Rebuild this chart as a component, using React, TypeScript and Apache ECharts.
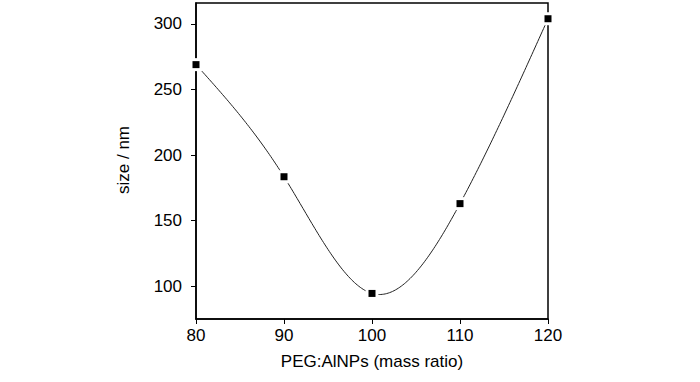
import React, { useEffect, useRef } from "react";
import * as echarts from "echarts";

const ratios = [80, 90, 100, 110, 120];
const sizes = [269, 183.5, 94.5, 163, 304];
const xTicks = [80, 90, 100, 110, 120];
const yTicks = [100, 150, 200, 250, 300];

// natural cubic spline second derivatives
function splineM(xs: number[], ys: number[]): number[] {
  const n = xs.length;
  const a: number[] = new Array(n).fill(0);
  const b: number[] = new Array(n).fill(0);
  const c: number[] = new Array(n).fill(0);
  const d: number[] = new Array(n).fill(0);
  b[0] = 1; b[n - 1] = 1;
  for (let i = 1; i < n - 1; i++) {
    const h0 = xs[i] - xs[i - 1];
    const h1 = xs[i + 1] - xs[i];
    a[i] = h0;
    b[i] = 2 * (h0 + h1);
    c[i] = h1;
    d[i] = 6 * ((ys[i + 1] - ys[i]) / h1 - (ys[i] - ys[i - 1]) / h0);
  }
  for (let i = 1; i < n; i++) {
    const m = a[i] / b[i - 1];
    b[i] -= m * c[i - 1];
    d[i] -= m * d[i - 1];
  }
  const M: number[] = new Array(n).fill(0);
  M[n - 1] = d[n - 1] / b[n - 1];
  for (let i = n - 2; i >= 0; i--) M[i] = (d[i] - c[i] * M[i + 1]) / b[i];
  return M;
}

function splineAt(xs: number[], ys: number[], M: number[], x: number): number {
  let i = 0;
  while (i < xs.length - 2 && x > xs[i + 1]) i++;
  const h = xs[i + 1] - xs[i];
  const A = (xs[i + 1] - x) / h;
  const B = (x - xs[i]) / h;
  return A * ys[i] + B * ys[i + 1] + ((A * A * A - A) * M[i] + (B * B * B - B) * M[i + 1]) * h * h / 6;
}

export default function App() {
  const ref = useRef<HTMLDivElement>(null);
  useEffect(() => {
    if (!ref.current) return;
    const chart = echarts.init(ref.current, null, { renderer: "svg" });
    const pts = ratios.map((r, i) => [r, sizes[i]]);
    const M = splineM(ratios, sizes);
    const font = "Liberation Sans, Arial, sans-serif";
    chart.setOption({
      animation: false,
      backgroundColor: "#fff",
      grid: {
        left: 196,
        top: 3,
        right: 152,
        bottom: 63,
        show: true,
        borderColor: "#000",
        borderWidth: 1.5,
        backgroundColor: "transparent",
      },
      xAxis: {
        type: "value",
        min: 80,
        max: 120,
        interval: 10,
        axisLine: { lineStyle: { color: "#000", width: 1.5 } },
        axisTick: { show: true, length: 5, inside: false, lineStyle: { color: "#000", width: 1 }, customValues: xTicks },
        axisLabel: { color: "#000", fontSize: 17, fontFamily: font, margin: 8, customValues: xTicks },
        splitLine: { show: false },
      },
      yAxis: {
        type: "value",
        min: 75,
        max: 316,
        axisLine: { lineStyle: { color: "#000", width: 1.5 } },
        axisTick: { show: true, length: 5, lineStyle: { color: "#000", width: 1 }, customValues: yTicks },
        axisLabel: { color: "#000", fontSize: 17, fontFamily: font, margin: 14, customValues: yTicks },
        splitLine: { show: false },
      },
      graphic: [
        {
          type: "text",
          x: 372,
          y: 361,
          style: {
            text: "PEG:AlNPs (mass ratio)",
            fill: "#000",
            font: `17px ${font}`,
            textAlign: "center",
            textVerticalAlign: "middle",
          },
        },
        {
          type: "text",
          x: 123,
          y: 160,
          rotation: Math.PI / 2,
          style: {
            text: "size / nm",
            fill: "#000",
            font: `17px ${font}`,
            textAlign: "center",
            textVerticalAlign: "middle",
          },
        },
      ],
      series: [
        {
          type: "custom",
          data: [pts[0]],
          clip: true,
          renderItem: (params: any, api: any) => {
            const x0 = ratios[0];
            const x1 = ratios[ratios.length - 1];
            const steps = 240;
            const points: number[][] = [];
            for (let k = 0; k <= steps; k++) {
              const x = x0 + ((x1 - x0) * k) / steps;
              points.push(api.coord([x, splineAt(ratios, sizes, M, x)]));
            }
            return {
              type: "polyline",
              shape: { points },
              style: { stroke: "#222", fill: null, lineWidth: 1 },
            };
          },
          z: 2,
        },
        {
          type: "scatter",
          data: pts,
          symbol: "rect",
          symbolSize: 13,
          itemStyle: { color: "#fff", opacity: 1 },
          z: 3,
        },
        {
          type: "scatter",
          data: pts,
          symbol: "rect",
          symbolSize: 7,
          itemStyle: { color: "#000", opacity: 1 },
          z: 4,
        },
      ],
    });
    return () => chart.dispose();
  }, []);
  return <div ref={ref} style={{ position: "absolute", left: 0, top: 0, width: 700, height: 382 }} />;
}
